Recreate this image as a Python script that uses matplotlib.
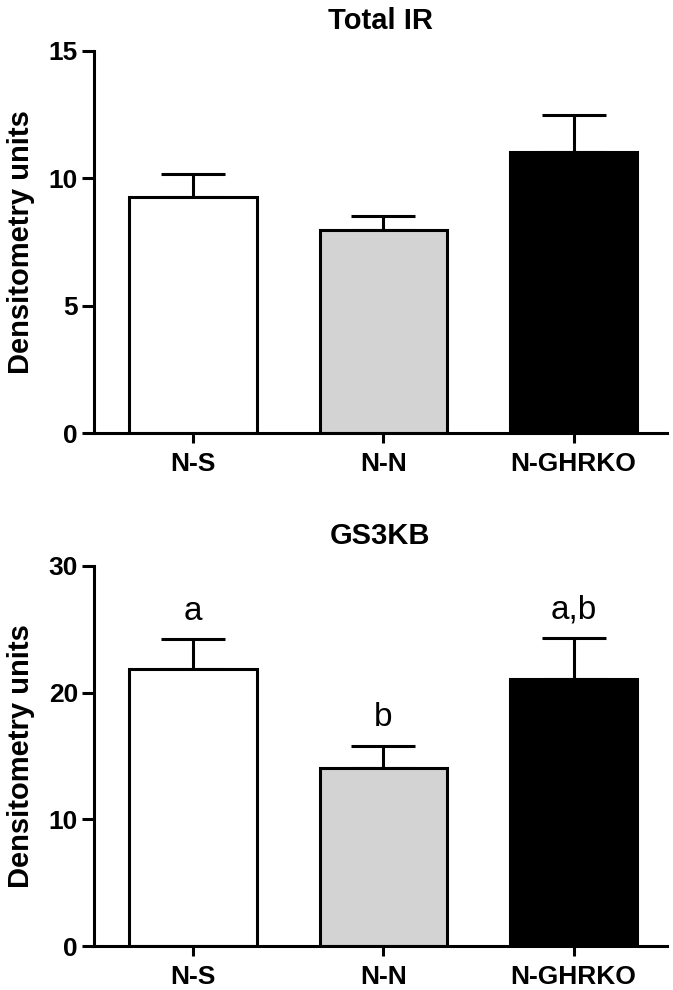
import matplotlib
matplotlib.use("Agg")
import matplotlib.pyplot as plt

groups = ["N-S", "N-N", "N-GHRKO"]
colors = ["white", "#d3d3d3", "black"]

ir_mean = [9.25, 7.97, 11.05]
ir_sem = [0.92, 0.57, 1.43]

gs_mean = [21.9, 14.05, 21.05]
gs_sem = [2.3, 1.75, 3.25]
gs_letters = ["a", "b", "a,b"]

plt.rcParams['font.family'] = ['Liberation Sans', 'DejaVu Sans']

fig = plt.figure(figsize=(6.73, 9.9), dpi=100)
ax1 = fig.add_axes([0.1397, 0.5626, 0.8513, 0.3859])
ax2 = fig.add_axes([0.1397, 0.0444, 0.8513, 0.3839])


def panel(ax, means, sems, title, ymax, step):
    x = list(range(len(groups)))
    ax.errorbar(x, means, yerr=[[0] * len(sems), sems], fmt="none",
                ecolor="black", elinewidth=2.2, capsize=23, capthick=2.2, zorder=1)
    ax.bar(x, means, width=0.67, color=colors, edgecolor="black", linewidth=2.2, zorder=2)
    ax.set_xlim(-0.52, 2.49)
    ax.set_ylim(0, ymax)
    ax.set_yticks(range(0, ymax + 1, step))
    ax.set_xticks(x)
    ax.set_xticklabels(groups)
    for s in ["top", "right"]:
        ax.spines[s].set_visible(False)
    for s in ["left", "bottom"]:
        ax.spines[s].set_linewidth(2.2)
    ax.tick_params(axis="x", width=2.2, length=7.5, labelsize=19, pad=6)
    ax.tick_params(axis="y", width=2.2, length=8.5, labelsize=19, pad=3)
    for lab in ax.get_xticklabels() + ax.get_yticklabels():
        lab.set_fontweight("bold")
    ax.set_ylabel("Densitometry units", fontsize=21, fontweight="bold", labelpad=10)
    ax.set_title(title, fontsize=21, fontweight="bold", pad=16)
    return x


panel(ax1, ir_mean, ir_sem, "Total IR", 15, 5)
x = panel(ax2, gs_mean, gs_sem, "GS3KB", 30, 10)
for xi, m, s, t in zip(x, gs_mean, gs_sem, gs_letters):
    ax2.text(xi, m + s + 1.0, t, ha="center", va="bottom", fontsize=24)

fig.savefig("out.png", dpi=100)
